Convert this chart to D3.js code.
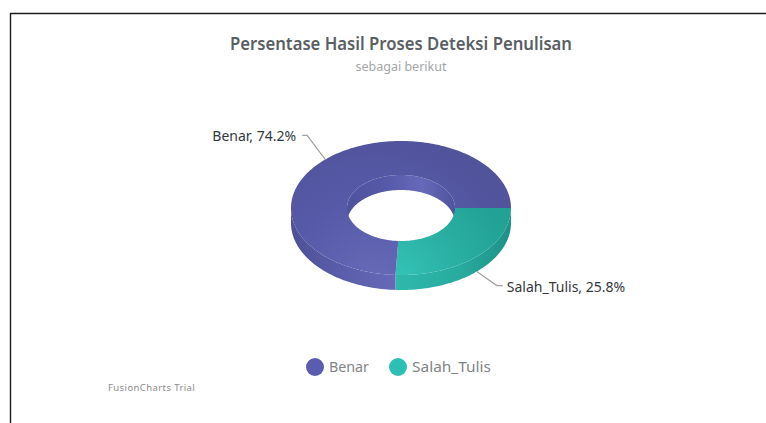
<!DOCTYPE html>
<html>
<head>
<meta charset="utf-8">
<script src="https://cdn.jsdelivr.net/npm/d3@7"></script>
<style>
  html, body { margin: 0; padding: 0; background: #fff; }
  svg { display: block; }
  text { font-family: "Noto Sans", sans-serif; }
</style>
</head>
<body>
<svg id="chart" width="766" height="423"></svg>
<script>
// Doughnut values and their labels
const categories = ["Benar", "Salah_Tulis"];
const percentages = [74.2, 25.8];
const legendColors = ["#5a5cb0", "#2cc0b4"];
const titleText = "Persentase Hasil Proses Deteksi Penulisan";
const subtitleText = "sebagai berikut";
const trialText = "FusionCharts Trial";

const svg = d3.select("#chart");
const defs = svg.append("defs");

// Framing rule along the top and left
svg.append("path")
  .attr("d", "M10.5,423V13.5H766")
  .attr("fill", "none")
  .attr("stroke", "#1c1c1c")
  .attr("stroke-width", 1.4);

svg.append("text").attr("x", 401).attr("y", 50).attr("text-anchor", "middle")
  .attr("font-size", 18).attr("font-weight", 600).attr("fill", "#5a5f63")
  .attr("textLength", 342).attr("lengthAdjust", "spacingAndGlyphs").text(titleText);
svg.append("text").attr("x", 401).attr("y", 71).attr("text-anchor", "middle")
  .attr("font-size", 12.5).attr("fill", "#a3a6a8").text(subtitleText);

// Ring geometry: a tilted annulus with a short extruded side
const cx = 401, cy = 208, rx = 110, ry = 67, innerRx = 54, innerRy = 33, depth = 15;
const xAt = d3.scaleLinear().domain([-1, 1]).range([cx - rx, cx + rx]);
const yAt = d3.scaleLinear().domain([-1, 1]).range([cy - ry, cy + ry]);

// Slices start at three o'clock and run clockwise, Salah_Tulis first
const pie = d3.pie().value(d => d.value).sort(null)
  .startAngle(Math.PI / 2).endAngle(Math.PI / 2 + 2 * Math.PI);
const slices = pie([
  { name: categories[1], value: percentages[1] },
  { name: categories[0], value: percentages[0] }
]);

// Screen angle measured clockwise from three o'clock
const screen = a => a - Math.PI / 2;
const outerPt = (t, dz = 0) => [xAt(Math.cos(t)), yAt(Math.sin(t)) + dz];
const innerPt = (t, dz = 0) => [cx + innerRx * Math.cos(t), cy + innerRy * Math.sin(t) + dz];
const arcPoints = (fn, a0, a1, dz) => {
  const n = Math.max(2, Math.ceil(Math.abs(a1 - a0) * 40));
  return d3.range(n + 1).map(i => fn(a0 + (a1 - a0) * i / n, dz));
};
const line = d3.line();

function linear(id, stops, x1, x2) {
  const g = defs.append("linearGradient").attr("id", id)
    .attr("gradientUnits", "userSpaceOnUse")
    .attr("x1", x1).attr("y1", 0).attr("x2", x2).attr("y2", 0);
  stops.forEach(([o, c]) => g.append("stop").attr("offset", o).attr("stop-color", c));
  return `url(#${id})`;
}
function radial(id, stops, gx, gy, r) {
  const g = defs.append("radialGradient").attr("id", id)
    .attr("gradientUnits", "userSpaceOnUse")
    .attr("cx", gx).attr("cy", gy).attr("r", r);
  stops.forEach(([o, c]) => g.append("stop").attr("offset", o).attr("stop-color", c));
  return `url(#${id})`;
}

const sideFills = [
  linear("sideTeal", [["0%", "#2eb9ac"], ["55%", "#29ab9f"], ["100%", "#1e9187"]], 395, 511),
  linear("sidePurple", [["0%", "#4d5097"], ["60%", "#5d60ad"], ["100%", "#6669b7"]], 291, 395)
];
const topFills = [
  radial("topTeal", [["0%", "#33c5b7"], ["50%", "#2bb0a4"], ["100%", "#22a195"]], 395, 280, 120),
  radial("topPurple", [["0%", "#686bb8"], ["35%", "#5d60ae"], ["60%", "#5659a7"], ["100%", "#51549b"]], 375, 285, 150)
];

// Outer wall, only the front half is visible
slices.forEach((s, i) => {
  const a0 = Math.max(screen(s.startAngle), 0);
  const a1 = Math.min(screen(s.endAngle), Math.PI);
  const pts = arcPoints(outerPt, a0, a1, 0).concat(arcPoints(outerPt, a1, a0, depth));
  svg.append("path").attr("d", line(pts) + "Z").attr("fill", sideFills[i]);
});

// Inner wall, only the back half is visible through the hole
const wallPts = arcPoints(innerPt, Math.PI, 2 * Math.PI, 0).concat(arcPoints(innerPt, 2 * Math.PI, Math.PI, depth));
svg.append("path").attr("d", line(wallPts) + "Z")
  .attr("fill", linear("wall", [["0%", "#4f529c"], ["35%", "#5659a8"], ["70%", "#6669b9"], ["100%", "#4f529c"]], 347, 455));

// Top faces
slices.forEach((s, i) => {
  const a0 = screen(s.startAngle), a1 = screen(s.endAngle);
  const pts = arcPoints(outerPt, a0, a1, 0).concat(arcPoints(innerPt, a1, a0, 0));
  svg.append("path").attr("d", line(pts) + "Z").attr("fill", topFills[i]);
});

// Leader lines leave each slice at its middle angle
slices.forEach(s => {
  const mid = screen((s.startAngle + s.endAngle) / 2);
  const lower = Math.sin(mid) > 0;
  const right = Math.cos(mid) > 0;
  const start = outerPt(mid, lower ? depth : 0);
  const elbow = [start[0] + (right ? 20 : -18), start[1] + (lower ? 14 : -24)];
  const end = [elbow[0] + (right ? 6 : -5), elbow[1]];
  svg.append("path").attr("d", line([start, elbow, end])).attr("fill", "none")
    .attr("stroke", "#a0a0a0").attr("stroke-width", 1.2);
  svg.append("text").attr("x", end[0] + (right ? 4 : -6)).attr("y", end[1] + 6)
    .attr("text-anchor", right ? "start" : "end")
    .attr("font-size", 14).attr("fill", "#33383b")
    .text(`${s.data.name}, ${s.data.value}%`);
});

// Legend
const legendX = d3.scaleOrdinal().domain(categories).range([315, 398]);
const legendWidths = [40, 79];
categories.forEach((c, i) => {
  svg.append("circle").attr("cx", legendX(c)).attr("cy", 367).attr("r", 9).attr("fill", legendColors[i]);
  svg.append("text").attr("x", legendX(c) + 14).attr("y", 372)
    .attr("font-size", 15).attr("fill", "#7f8487")
    .attr("textLength", legendWidths[i]).attr("lengthAdjust", "spacingAndGlyphs").text(c);
});

svg.append("text").attr("x", 108).attr("y", 391).attr("letter-spacing", 0.4)
  .attr("font-size", 9.5).attr("fill", "#8a8a8a").text(trialText);
</script>
</body>
</html>
